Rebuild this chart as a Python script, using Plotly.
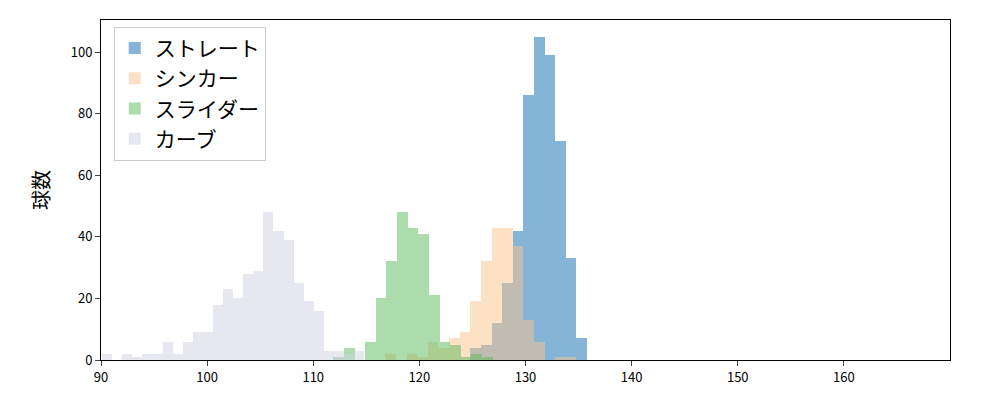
import plotly.graph_objects as go

names = ["ストレート", "シンカー", "スライダー", "カーブ"]
starts = [124.8, 116.8, 111.9, 90.1]
widths = [1.0, 1.0, 1.0, 0.95]
straight = [4, 5, 12, 25, 42, 86, 105, 99, 71, 33, 7]
sinker = [2, 0, 2, 1, 6, 4, 7, 9, 19, 32, 43, 43, 37, 13, 6, 0, 1, 1]
slider = [1, 4, 0, 6, 20, 32, 48, 43, 41, 21, 6, 5, 1, 2, 1]
curve = [2, 0, 2, 1, 2, 2, 6, 2, 6, 9, 9, 18, 23, 20, 28, 29, 48, 42, 39, 25, 19, 16, 3, 3, 2, 3]
tick_vals = [90, 100, 110, 120, 130, 140, 150, 160]
colors = ["rgba(31,119,180,0.55)", "rgba(252,196,140,0.5)", "rgba(90,185,90,0.5)", "rgba(208,208,230,0.5)"]

fig = go.Figure()
for name, s, w, vals, c in zip(names, starts, widths, [straight, sinker, slider, curve], colors):
    xs = [s + w * (i + 0.5) for i in range(len(vals))]
    fig.add_trace(go.Bar(x=xs, y=vals, width=w, name=name, marker=dict(color=c, line=dict(width=0))))

fig.update_layout(
    width=1000, height=400, barmode="overlay", bargap=0,
    plot_bgcolor="white", paper_bgcolor="white",
    margin=dict(l=93, r=58, t=12, b=48),
    font=dict(family="Noto Sans CJK JP", size=13, color="black"),
    legend=dict(x=0.015, y=0.98, xanchor="left", yanchor="top", font=dict(size=21),
                tracegroupgap=6, bordercolor="#cccccc", borderwidth=1,
                bgcolor="rgba(255,255,255,0.8)"),
    xaxis=dict(range=[90, 170], tickvals=tick_vals, showline=True, linecolor="black", mirror=True,
               ticks="outside", showgrid=False, zeroline=False),
    yaxis=dict(range=[0, 110.4], dtick=20, showline=True, linecolor="black", mirror=True,
               ticks="outside", showgrid=False, zeroline=False,
               title=dict(text="球数", font=dict(size=20))),
)
fig.write_html("out.html")
